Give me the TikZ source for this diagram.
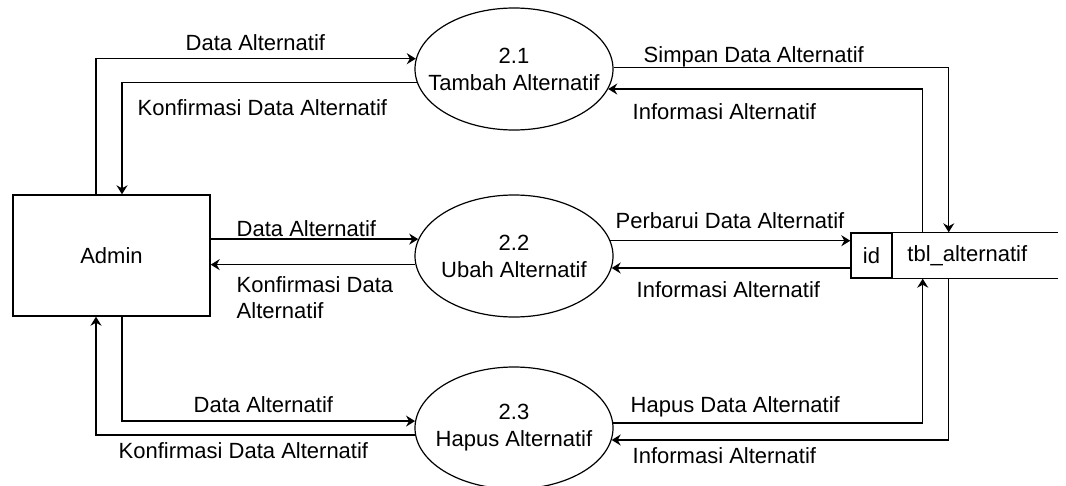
\documentclass[tikz,border=0pt]{standalone}
\usepackage{fontspec}
\setmainfont{Liberation Sans}
\usetikzlibrary{shapes.geometric,arrows.meta}
\begin{document}
\begin{tikzpicture}[x=1pt,y=-1pt,
  font=\fontsize{22}{27}\selectfont,
  line width=1.4pt,
  >={Stealth[length=9pt,width=11pt,inset=3pt]},
  proc/.style={ellipse, draw, line width=1.2pt, minimum width=198pt, minimum height=122pt, inner xsep=-30pt, inner ysep=0pt, align=center},
  ent/.style={rectangle, draw, minimum width=197pt, minimum height=121pt},
  idbox/.style={rectangle, draw, minimum width=41pt, minimum height=45pt, inner sep=0pt},
  lbl/.style={anchor=base west, inner sep=0pt},
  flow/.style={->}]
\useasboundingbox (0,0) rectangle (1066,485);

% entities and processes
\node[ent] (admin) at (111.5,255.5) {Admin};
\node[proc] (p1) at (514,69) {2.1\\Tambah Alternatif};
\node[proc] (p2) at (514,256) {2.2\\Ubah Alternatif};
\node[proc] (p3) at (514,428) {2.3\\Hapus Alternatif};

% data store
\node[idbox] (id) at (871.5,255.5) {id};
\node[anchor=west, inner xsep=14pt, inner ysep=0pt, minimum height=45pt] (tbl) at (id.east) {tbl\_alternatif};
\coordinate (storeend) at (1058,255.5);
\draw (id.north east) -- (id.north east -| storeend);
\draw (id.south east) -- (id.south east -| storeend);

% Admin <-> 2.1
\draw[flow] ([xshift=-15.5pt]admin.north) |- (p1.174.2);
\draw[flow] (p1.188.9) -| ([xshift=10.5pt]admin.north);
% Admin <-> 2.2
\draw[flow] (admin.east |- p2.170.5) -- (p2.170.5);
\draw[flow] (p2.185.8) -- (admin.east |- p2.185.8);
% Admin <-> 2.3
\draw[flow] ([xshift=10.5pt]admin.south) |- (p3.176.5);
\draw[flow] (p3.184.6) -| ([xshift=-15.5pt]admin.south);

% 2.1 <-> store
\draw[flow] (p1.1.7) -| ([xshift=56pt]tbl.north west);
\draw[flow] ([xshift=30pt]tbl.north west) |- (p1.-12.8);
% 2.2 <-> store
\draw[flow] (p2.9.5) -- (id.west |- p2.9.5);
\draw[flow] (id.west |- p2.-7) -- (p2.-7);
% 2.3 <-> store
\draw[flow] (p3.3.5) -| ([xshift=30pt]tbl.south west);
\draw[flow] ([xshift=56pt]tbl.south west) |- (p3.-7);

% labels
\node[lbl] (l1) at (185,50) {Data Alternatif};
\node[lbl] (l2) at (137,115) {Konfirmasi Data Alternatif};
\node[lbl] (l3) at (643,62) {Simpan Data Alternatif};
\node[lbl] (l4) at (632,119) {Informasi Alternatif};
\node[lbl] (l5) at (615,228) {Perbarui Data Alternatif};
\node[lbl] (l6) at (636,297) {Informasi Alternatif};
\node[lbl] (l7) at (236,236) {Data Alternatif};
\node[lbl] (l8a) at (236,292) {Konfirmasi Data};
\node[lbl] (l8b) at (236,318) {Alternatif};
\node[lbl] (l9) at (193,412) {Data Alternatif};
\node[lbl] (l10) at (118,458) {Konfirmasi Data Alternatif};
\node[lbl] (l11) at (630,412) {Hapus Data Alternatif};
\node[lbl] (l12) at (632,463) {Informasi Alternatif};
\end{tikzpicture}
\end{document}
